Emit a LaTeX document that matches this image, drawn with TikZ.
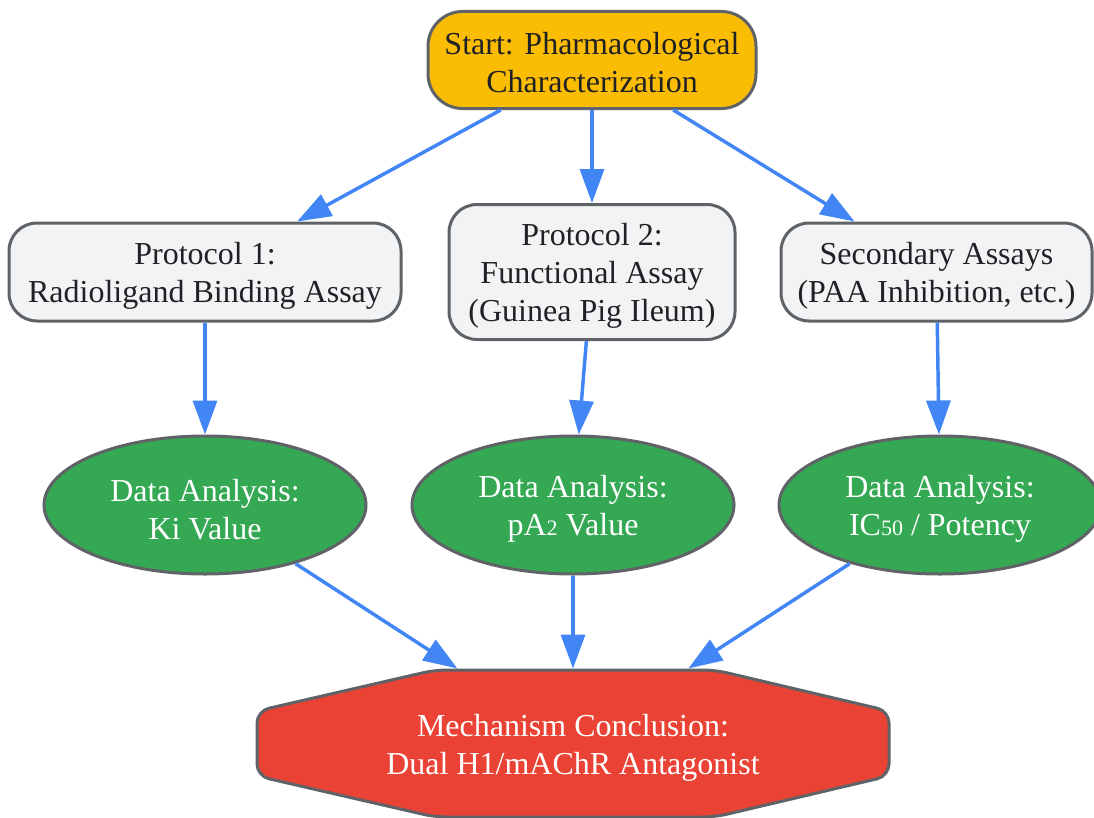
\documentclass[tikz,border=0pt]{standalone}
\usepackage{fontspec}
\setmainfont{Liberation Serif}
\usetikzlibrary{arrows.meta,shapes.geometric}
\definecolor{cyellow}{HTML}{FBBC04}
\definecolor{cgreen}{HTML}{34A853}
\definecolor{cred}{HTML}{EA4335}
\definecolor{clight}{HTML}{F1F3F4}
\definecolor{cborder}{HTML}{5F6368}
\definecolor{carrow}{HTML}{4285F4}
\definecolor{ctext}{HTML}{202124}
\newcommand\subdig[1]{\raisebox{0.6pt}{\fontsize{16.5pt}{16.5pt}\selectfont #1}}
\newcommand\tstrut{\rule{0pt}{23pt}}
\newcommand\sstrut{\rule{0pt}{20pt}}
\tikzset{
  base/.style={draw=cborder,line width=2.25pt,align=center,inner sep=0pt,
    font=\fontsize{24pt}{28.5pt}\selectfont},
  startbox/.style={base,rectangle,rounded corners=26pt,fill=cyellow,text=ctext,
    minimum width=246pt,minimum height=72.75pt},
  protbox/.style={base,rectangle,rounded corners=21pt,fill=clight,text=ctext,
    minimum height=73.5pt},
  databox/.style={base,ellipse,fill=cgreen,text=white,
    minimum width=241.5pt,minimum height=103.5pt},
  concl/.style={base,draw=none,rectangle,text=white,
    minimum width=474pt,minimum height=110.25pt},
  octshape/.style={draw=cborder,line width=2.25pt,fill=cred,rounded corners=9pt},
  conn/.style={draw=carrow,line width=2.6pt,
    -{Triangle[length=25.5pt,width=18pt]}}
}
\begin{document}
\begin{tikzpicture}[x=0.75pt,y=-0.75pt]
\useasboundingbox (0,0) rectangle (1094,817);
\node[startbox] (start) at (592,60) {\sstrut Start: Pharmacological\\Characterization};
\node[protbox,minimum width=294pt] (p1) at (205,272) {\tstrut Protocol 1:\\Radioligand Binding Assay};
\node[protbox,minimum width=214.5pt,minimum height=101.25pt] (p2) at (592,272) {\tstrut Protocol 2:\\Functional Assay\\(Guinea Pig Ileum)};
\node[protbox,minimum width=233.25pt] (p3) at (936.5,272) {\tstrut Secondary Assays\\(PAA Inhibition, etc.)};
\node[databox] (e1) at (205,505) {\tstrut Data Analysis:\\Ki Value};
\node[databox] (e2) at (573,505) {\tstrut Data Analysis:\\pA\subdig{2} Value};
\node[databox] (e3) at (940,505) {\tstrut Data Analysis:\\IC\subdig{50} / Potency};
\path[octshape] (435,670) -- (715,670) -- (889,711) -- (889,776) -- (715,817) -- (435,817) -- (257,776) -- (257,711) -- cycle;
\node[concl] (oct) at (573,743.5) {\tstrut Mechanism Conclusion:\\Dual H1/mAChR Antagonist};
\draw[conn] (start) -- (p1);
\draw[conn] (start) -- (p2);
\draw[conn] (start) -- (p3);
\draw[conn] (p1) -- (e1);
\draw[conn] (p2) -- (e2);
\draw[conn] (p3) -- (e3);
\draw[conn] (e1) -- (oct);
\draw[conn] (e2) -- (oct);
\draw[conn] (e3) -- (oct);
\end{tikzpicture}
\end{document}
